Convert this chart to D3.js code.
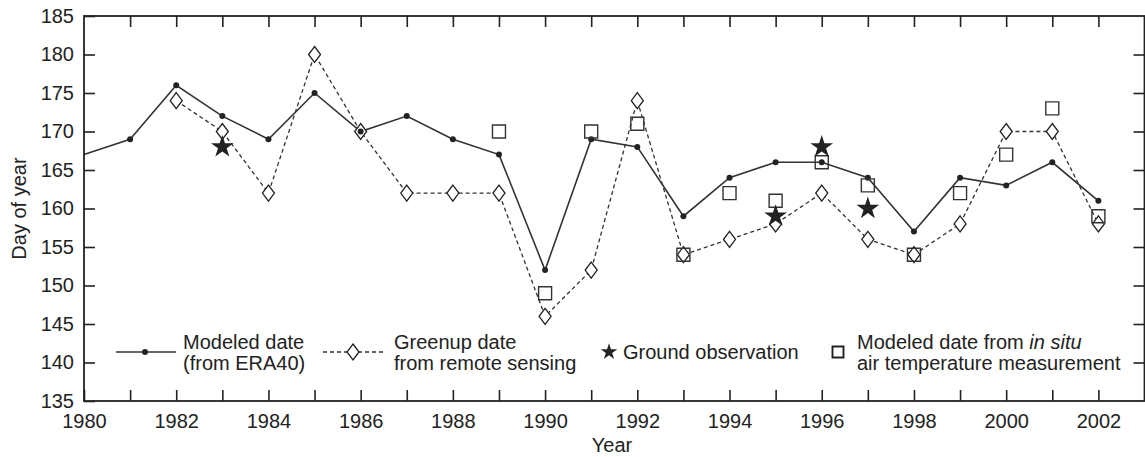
<!DOCTYPE html>
<html>
<head>
<meta charset="utf-8">
<script src="https://cdn.jsdelivr.net/npm/d3@7"></script>
<style>
  body { margin: 0; background: #fff; }
  text { font-family: "Liberation Sans", Arial, sans-serif; fill: #222; }
</style>
</head>
<body>
<div class="canvas"></div>
<script>
// data
const modelYears = d3.range(1980, 2003);
const modelDays = [167, 169, 176, 172, 169, 175, 170, 172, 169, 167, 152, 169, 168, 159, 164, 166, 166, 164, 157, 164, 163, 166, 161];

const greenYears = d3.range(1982, 2003);
const greenDays = [174, 170, 162, 180, 170, 162, 162, 162, 146, 152, 174, 154, 156, 158, 162, 156, 154, 158, 170, 170, 158];

const groundYears = [1983, 1995, 1996, 1997];
const groundDays = [168, 159, 168, 160];

const situYears = d3.range(1989, 2003);
const situDays = [170, 149, 170, 171, 154, 162, 161, 166, 163, 154, 162, 167, 173, 159];

const xTicks = d3.range(1980, 2003, 2);
const yTicks = d3.range(135, 186, 5);

const dims = { width: 1145, height: 457 };
const m = { left: 84, right: 0, top: 16, bottom: 56 };
const ink = '#222';
const fs = 20;

const svg = d3.select('.canvas')
    .append('svg')
    .attr('width', dims.width)
    .attr('height', dims.height);

const x = d3.scaleLinear().domain([1980, 2003]).range([m.left, dims.width - m.right - 0.5]);
const y = d3.scaleLinear().domain([135, 185]).range([dims.height - m.bottom, m.top]);

// frame
svg.append('rect')
    .attr('x', x(1980)).attr('y', y(185))
    .attr('width', x(2003) - x(1980)).attr('height', y(135) - y(185))
    .attr('fill', 'none').attr('stroke', ink).attr('stroke-width', 1.8);

// inward ticks on all four sides
const tickLen = 11;
const axisStyle = g => {
    g.select('.domain').remove();
    g.selectAll('.tick line').attr('stroke', ink).attr('stroke-width', 1.6);
    g.selectAll('.tick text').attr('font-size', fs).attr('fill', ink);
};

svg.append('g')
    .attr('transform', `translate(0, ${y(135)})`)
    .call(d3.axisBottom(x).tickValues(d3.range(1980, 2003)).tickSize(-tickLen).tickPadding(13)
        .tickFormat(d => xTicks.includes(d) ? d : ''))
    .call(axisStyle);

svg.append('g')
    .attr('transform', `translate(0, ${y(185)})`)
    .call(d3.axisTop(x).tickValues(d3.range(1981, 2003)).tickSize(-tickLen).tickFormat(''))
    .call(axisStyle);

svg.append('g')
    .attr('transform', `translate(${x(1980)}, 0)`)
    .call(d3.axisLeft(y).tickValues(yTicks).tickSize(-tickLen).tickPadding(10))
    .call(axisStyle);

svg.append('g')
    .attr('transform', `translate(${x(2003)}, 0)`)
    .call(d3.axisRight(y).tickValues(yTicks.slice(1, -1)).tickSize(-tickLen).tickFormat(''))
    .call(axisStyle);

// axis titles
svg.append('text')
    .attr('x', 612).attr('y', 452)
    .attr('text-anchor', 'middle').attr('font-size', fs)
    .text('Year');

svg.append('text')
    .attr('transform', `translate(26, ${(y(135) + y(185)) / 2}) rotate(-90)`)
    .attr('text-anchor', 'middle').attr('font-size', fs)
    .text('Day of year');

// series
const modelPts = modelYears.map((yr, i) => [yr, modelDays[i]]);
const greenPts = greenYears.map((yr, i) => [yr, greenDays[i]]);
const groundPts = groundYears.map((yr, i) => [yr, groundDays[i]]);
const situPts = situYears.map((yr, i) => [yr, situDays[i]]);

const line = d3.line().x(d => x(d[0])).y(d => y(d[1]));

svg.append('path')
    .datum(greenPts)
    .attr('fill', 'none').attr('stroke', '#333').attr('stroke-width', 1.3)
    .attr('stroke-dasharray', '4,3')
    .attr('d', line);

svg.append('path')
    .datum(modelPts)
    .attr('fill', 'none').attr('stroke', '#333').attr('stroke-width', 1.6)
    .attr('d', line);

const diamond = 'M0,-8L6,0L0,8L-6,0Z';
const square = 'M-6.5,-6.5H6.5V6.5H-6.5Z';
const star = d3.symbol(d3.symbolStar, 160)();

svg.selectAll('.dia')
    .data(greenPts).enter()
    .append('path')
    .attr('class', 'dia')
    .attr('transform', d => `translate(${x(d[0])}, ${y(d[1])})`)
    .attr('d', diamond)
    .attr('fill', '#fff').attr('stroke', ink).attr('stroke-width', 1.3);

svg.selectAll('.dot')
    .data(modelPts.slice(1)).enter()
    .append('circle')
    .attr('class', 'dot')
    .attr('cx', d => x(d[0])).attr('cy', d => y(d[1]))
    .attr('r', 3).attr('fill', ink);

svg.selectAll('.sq')
    .data(situPts).enter()
    .append('path')
    .attr('class', 'sq')
    .attr('transform', d => `translate(${x(d[0])}, ${y(d[1])})`)
    .attr('d', square)
    .attr('fill', 'none').attr('stroke', '#333').attr('stroke-width', 1.4);

svg.selectAll('.star')
    .data(groundPts).enter()
    .append('path')
    .attr('class', 'star')
    .attr('transform', d => `translate(${x(d[0])}, ${y(d[1])})`)
    .attr('d', star)
    .attr('fill', ink);

// legend
const ly = 352;
const leg = svg.append('g');

leg.append('line').attr('x1', 116).attr('x2', 176).attr('y1', ly).attr('y2', ly)
    .attr('stroke', '#333').attr('stroke-width', 1.6);
leg.append('circle').attr('cx', 145).attr('cy', ly).attr('r', 3).attr('fill', ink);

leg.append('line').attr('x1', 323).attr('x2', 383).attr('y1', ly).attr('y2', ly)
    .attr('stroke', '#333').attr('stroke-width', 1.3).attr('stroke-dasharray', '4,3');
leg.append('path').attr('transform', `translate(353, ${ly})`).attr('d', diamond)
    .attr('fill', '#fff').attr('stroke', ink).attr('stroke-width', 1.3);

leg.append('path').attr('transform', `translate(609, ${ly})`)
    .attr('d', d3.symbol(d3.symbolStar, 85)()).attr('fill', ink);

leg.append('path').attr('transform', `translate(838, ${ly})`).attr('d', 'M-5.5,-5.5H5.5V5.5H-5.5Z')
    .attr('fill', 'none').attr('stroke', ink).attr('stroke-width', 1.9);

const legText = [
    { x: 183, lines: ['Modeled date', '(from ERA40)'] },
    { x: 394, lines: ['Greenup date', 'from remote sensing'] },
    { x: 623, lines: ['Ground observation'] },
];
legText.forEach(t => {
    const tx = leg.append('text').attr('font-size', fs);
    if (t.lines.length === 1) {
        tx.attr('x', t.x).attr('y', ly + 7).text(t.lines[0]);
    } else {
        t.lines.forEach((s, i) => tx.append('tspan').attr('x', t.x).attr('y', ly - 3 + i * 21).text(s));
    }
});

const situText = leg.append('text').attr('font-size', fs);
const l1 = situText.append('tspan').attr('x', 857).attr('y', ly - 3);
l1.append('tspan').text('Modeled date from ');
l1.append('tspan').attr('font-style', 'italic').text('in situ');
situText.append('tspan').attr('x', 857).attr('y', ly + 18).text('air temperature measurement');
</script>
</body>
</html>
